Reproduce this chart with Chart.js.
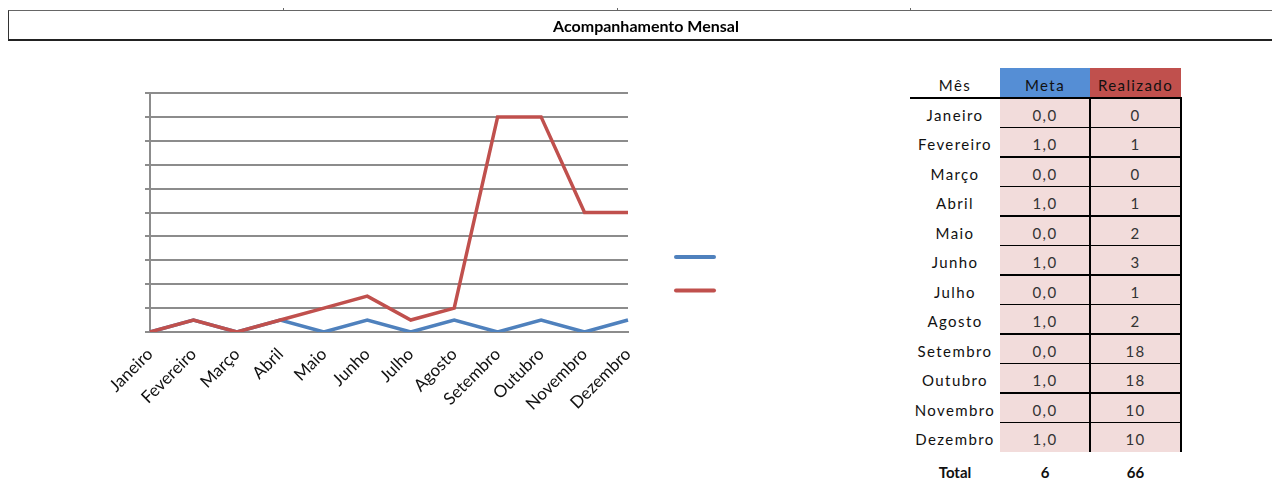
<!DOCTYPE html>
<html>
<head>
<meta charset="utf-8">
<script src="https://cdn.jsdelivr.net/npm/chart.js@4/dist/chart.umd.min.js"></script>
<style>
  html, body { margin:0; padding:0; background:#fff; }
  body { width:1272px; height:482px; position:relative; overflow:hidden; font-family: Lato, "Open Sans", sans-serif; }
  #chart { position:absolute; left:0; top:0; }
  #titlebar { position:absolute; left:8px; top:10px; width:1264px; height:28px;
    border-top:1px solid #666; border-left:1px solid #333; border-bottom:2px solid #222; box-sizing:content-box; }
  #titlebar span { position:absolute; left:637px; top:5px; transform:translateX(-50%);
    font-weight:bold; font-size:16px; color:#000; white-space:nowrap; }
  .mark { position:absolute; top:8px; width:1px; height:3px; background:#666; }
  .cell { position:absolute; box-sizing:border-box; display:flex; align-items:center; justify-content:center;
    font-size:15px; letter-spacing:1.4px; color:#111; padding-top:4px; }
  .hline { position:absolute; height:1.5px; background:#000; }
  .vline { position:absolute; width:1.5px; background:#000; }
</style>
</head>
<body>
<canvas id="chart" width="760" height="482"></canvas>
<div id="titlebar"><span>Acompanhamento Mensal</span></div>
<div class="mark" style="left:283px"></div>
<div class="mark" style="left:617px"></div>
<div class="mark" style="left:910px"></div>
<div id="table"></div>
<script>
const categories = ['Janeiro','Fevereiro','Março','Abril','Maio','Junho','Julho','Agosto','Setembro','Outubro','Novembro','Dezembro'];
const metaValues = [0,1,0,1,0,1,0,1,0,1,0,1];
const realizadoValues = [0,1,0,1,2,3,1,2,18,18,10,10];
const seriesNames = ['Meta','Realizado'];
const yMin = 0, yMax = 20, yStep = 2;
const headerMes = 'Mês';
const totalLabel = 'Total';

const blue = '#4F81BD', red = '#C0504D', grid = '#8c8c8c';

const legendLines = {
  id:'legendLines',
  afterDraw(chart){
    const ctx = chart.ctx;
    const ys = [257, 290.5];
    chart.data.datasets.forEach((ds,i)=>{
      ctx.save();
      ctx.strokeStyle = ds.borderColor;
      ctx.lineWidth = 4;
      ctx.lineCap = 'round';
      ctx.beginPath();
      ctx.moveTo(676, ys[i]); ctx.lineTo(714, ys[i]);
      ctx.stroke();
      ctx.restore();
    });
  }
};

new Chart(document.getElementById('chart'), {
  type:'line',
  data:{
    labels: categories,
    datasets:[
      {label:seriesNames[0], data:metaValues, borderColor:blue, backgroundColor:blue, borderWidth:3.5, pointRadius:0, tension:0, order:1},
      {label:seriesNames[1], data:realizadoValues, borderColor:red, backgroundColor:red, borderWidth:3.5, pointRadius:0, tension:0, order:0}
    ]
  },
  options:{
    responsive:false, animation:false,
    layout:{padding:{left:145, right:132, top:93, bottom:0}},
    plugins:{legend:{display:false}, tooltip:{enabled:false}},
    scales:{
      x:{
        grid:{display:false, drawTicks:true, tickLength:8},
        border:{display:true, color:grid, width:2},
        ticks:{autoSkip:false, minRotation:45, maxRotation:45, padding:4, color:'#111', font:{family:'Lato', size:17}},
        afterFit(s){ s.height = 150; }
      },
      y:{
        min:yMin, max:yMax,
        grid:{color:grid, lineWidth:2, tickLength:5, drawTicks:true},
        border:{display:true, color:grid, width:2},
        ticks:{display:false, stepSize:yStep},
        afterFit(s){ s.width = 5; }
      }
    }
  },
  plugins:[legendLines]
});

// table
const tbl = document.getElementById('table');
const colX = [910, 1000, 1090, 1181];
const headTop = 68, rowTop = 98, rowH = 29.5;
function cell(x, y, w, h, text, style){
  const d = document.createElement('div');
  d.className = 'cell';
  d.style.left = x+'px'; d.style.top = y+'px'; d.style.width = w+'px'; d.style.height = h+'px';
  if (style) Object.assign(d.style, style);
  d.textContent = text;
  tbl.appendChild(d);
  return d;
}
function hline(x1, x2, y){ const d=document.createElement('div'); d.className='hline'; d.style.left=x1+'px'; d.style.width=(x2-x1+1)+'px'; d.style.top=(y-0.75)+'px'; tbl.appendChild(d); }
function vline(x, y1, y2){ const d=document.createElement('div'); d.className='vline'; d.style.left=(x-0.75)+'px'; d.style.top=y1+'px'; d.style.height=(y2-y1)+'px'; tbl.appendChild(d); }

cell(colX[0], headTop, colX[1]-colX[0], rowTop-headTop, headerMes);
cell(colX[1], headTop, colX[2]-colX[1], rowTop-headTop, seriesNames[0], {background:'#558ED5'});
cell(colX[2], headTop, colX[3]-colX[2], rowTop-headTop, seriesNames[1], {background:red});
categories.forEach((m,i)=>{
  const y = rowTop + i*rowH;
  cell(colX[0], y, colX[1]-colX[0], rowH, m);
  cell(colX[1], y, colX[2]-colX[1], rowH, metaValues[i].toFixed(1).replace('.',','), {background:'#F2DCDB', color:'#333'});
  cell(colX[2], y, colX[3]-colX[2], rowH, String(realizadoValues[i]), {background:'#F2DCDB', color:'#333'});
  if (i>0) hline(colX[1], colX[3], y);
});
hline(colX[0], colX[3], rowTop);
vline(colX[2], rowTop, rowTop+12*rowH);
vline(colX[3], rowTop, rowTop+12*rowH);
const totY = rowTop + 12*rowH + 3;
const sum = a => a.reduce((s,v)=>s+v,0);
cell(colX[0], totY, colX[1]-colX[0], 30, totalLabel, {fontWeight:'bold', letterSpacing:'0'});
cell(colX[1], totY, colX[2]-colX[1], 30, String(sum(metaValues)), {fontWeight:'bold', letterSpacing:'0'});
cell(colX[2], totY, colX[3]-colX[2], 30, String(sum(realizadoValues)), {fontWeight:'bold', letterSpacing:'0'});
</script>
</body>
</html>
